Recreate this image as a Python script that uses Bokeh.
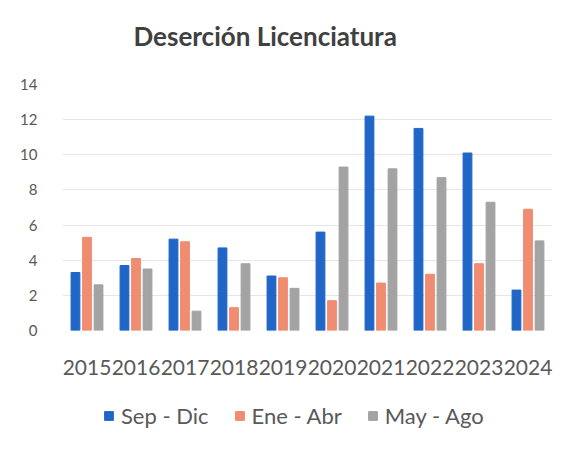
from bokeh.plotting import figure
from bokeh.models import FactorRange, Legend, LegendItem, FixedTicker, ColumnDataSource, Label
from bokeh.layouts import column
from bokeh.transform import dodge
from bokeh.embed import file_html
from bokeh.resources import INLINE

title_text = "Deserción Licenciatura"
years = ["2015", "2016", "2017", "2018", "2019", "2020", "2021", "2022", "2023", "2024"]
sep_dic = [3.3, 3.7, 5.2, 4.7, 3.1, 5.6, 12.2, 11.5, 10.1, 2.3]
ene_abr = [5.3, 4.1, 5.05, 1.3, 3.0, 1.7, 2.7, 3.2, 3.8, 6.9]
may_ago = [2.6, 3.5, 1.1, 3.8, 2.4, 9.3, 9.2, 8.7, 7.3, 5.1]
series_names = ["Sep - Dic", "Ene - Abr", "May - Ago"]
series_cols = ["sep", "ene", "may"]
y_ticks = [0, 2, 4, 6, 8, 10, 12, 14]

colors = ["#1F66C6", "#F08C70", "#A3A3A3"]
FONT = "Lato"

src = ColumnDataSource(dict(years=years, sep=sep_dic, ene=ene_abr, may=may_ago))

# title strip
tf = figure(width=569, height=60, output_backend="svg", toolbar_location=None,
            x_axis_type=None, y_axis_type=None, min_border=0,
            x_range=(0, 1), y_range=(0, 1))
tf.outline_line_color = None
tf.grid.grid_line_color = None
tf.add_layout(Label(x=71, y=25, x_units="screen", y_units="screen", text=title_text,
                    text_font=FONT, text_font_size="26px", text_font_style="bold",
                    text_color="#404040", text_align="left", text_baseline="middle"))

p = figure(x_range=FactorRange(*years, range_padding=0), y_range=(0, 14),
           frame_width=490, frame_height=246, output_backend="svg", toolbar_location=None,
           min_border_left=62, min_border_right=17, min_border_top=24, min_border_bottom=60)

offsets = [-0.235, 0.0, 0.235]
for col, off, c in zip(series_cols, offsets, colors):
    p.vbar(x=dodge("years", off, range=p.x_range), top=col, width=0.18, source=src, color=c)

p.outline_line_color = None
p.xgrid.grid_line_color = None
p.ygrid.grid_line_color = "#E6E6E6"
p.yaxis.ticker = FixedTicker(ticks=y_ticks)

for ax in (p.xaxis, p.yaxis):
    ax.axis_line_color = None
    ax.major_tick_line_color = None
    ax.minor_tick_line_color = None
    ax.major_tick_out = 0
    ax.major_tick_in = 0
    ax.major_label_text_font = FONT
    ax.major_label_text_color = "#595959"

p.yaxis.major_label_text_font_size = "15px"
p.yaxis.major_label_standoff = 25
p.xaxis.major_label_text_font_size = "21px"
p.xaxis.major_label_standoff = 29

# legend strip below the chart: its renderers use the same data but lie outside
# this strip's visible y-range, so only the legend swatches show
lg = figure(width=569, height=64, output_backend="svg", toolbar_location=None,
            x_axis_type=None, y_axis_type=None, min_border=0,
            x_range=FactorRange(*years), y_range=(100, 101))
lg.outline_line_color = None
lg.grid.grid_line_color = None
items = []
for name, col, c in zip(series_names, series_cols, colors):
    r = lg.vbar(x="years", top=col, width=0.1, source=src, color=c)
    items.append(LegendItem(label=name, renderers=[r], index=0))

legend = Legend(items=items, orientation="horizontal", location=(41, 25),
                glyph_width=11, glyph_height=11, label_standoff=7, spacing=25,
                label_text_font=FONT, label_text_font_size="22px",
                label_text_color="#595959", border_line_color=None,
                background_fill_alpha=0, margin=0, padding=0)
lg.add_layout(legend, "center")

layout = column(tf, p, lg, spacing=0)
open("out.html", "w").write(file_html(layout, INLINE))
